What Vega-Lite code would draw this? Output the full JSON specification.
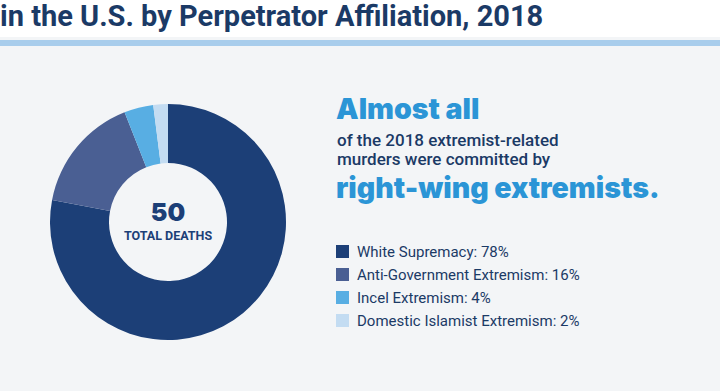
{
  "$schema": "https://vega.github.io/schema/vega-lite/v6.json",
  "background": "#f3f5f7",
  "padding": 0,
  "spacing": 0,
  "config": {
    "view": {"stroke": null},
    "concat": {"spacing": 0}
  },
  "datasets": {
    "deaths": [
      {"affiliation": "White Supremacy", "label": "White Supremacy: 78%", "deaths": 39, "share": 78},
      {"affiliation": "Anti-Government Extremism", "label": "Anti-Government Extremism: 16%", "deaths": 8, "share": 16},
      {"affiliation": "Incel Extremism", "label": "Incel Extremism: 4%", "deaths": 2, "share": 4},
      {"affiliation": "Domestic Islamist Extremism", "label": "Domestic Islamist Extremism: 2%", "deaths": 1, "share": 2}
    ]
  },
  "vconcat": [
    {
      "width": 720,
      "height": 37,
      "view": {"fill": "#ffffff", "stroke": null},
      "data": {"values": [{"t": "in the U.S. by Perpetrator Affiliation, 2018"}]},
      "mark": {"type": "text", "align": "left", "baseline": "alphabetic", "font": "Roboto", "fontSize": 29, "fontWeight": "bold", "color": "#1b3a66"},
      "encoding": {"text": {"field": "t"}, "x": {"value": 0}, "y": {"value": 26}}
    },
    {
      "width": 720,
      "height": 6,
      "view": {"fill": "#a8cdec", "stroke": null},
      "data": {"values": [{"t": ""}]},
      "mark": {"type": "text"},
      "encoding": {"text": {"field": "t"}}
    },
    {
      "hconcat": [
        {
          "width": 336,
          "height": 348,
          "data": {"name": "deaths"},
          "layer": [
            {
              "mark": {"type": "arc", "innerRadius": 59, "outerRadius": 118},
              "encoding": {
                "theta": {"field": "deaths", "type": "quantitative", "stack": true},
                "order": {"field": "deaths", "sort": "descending"},
                "color": {
                  "field": "label",
                  "type": "nominal",
                  "sort": null,
                  "scale": {
                    "domain": ["White Supremacy: 78%", "Anti-Government Extremism: 16%", "Incel Extremism: 4%", "Domestic Islamist Extremism: 2%"],
                    "range": ["#1c3f77", "#4a5f93", "#58aee3", "#c3dcf2"]
                  },
                  "legend": {
                    "orient": "none",
                    "legendX": 335,
                    "legendY": 244,
                    "title": null,
                    "symbolType": "square",
                    "symbolSize": 169,
                    "symbolStrokeWidth": 0,
                    "labelFont": "Roboto",
                    "labelFontSize": 15,
                    "labelFontWeight": 400,
                    "labelColor": "#1b3a66",
                    "labelOffset": 7,
                    "rowPadding": 7,
                    "labelLimit": 400
                  }
                }
              }
            },
            {
              "data": {"values": [{"t": "50"}]},
              "mark": {"type": "text", "font": "Inter", "fontSize": 25, "fontWeight": 900, "color": "#1c3f77", "baseline": "alphabetic", "dy": -1},
              "encoding": {"text": {"field": "t"}}
            },
            {
              "data": {"values": [{"t": "TOTAL DEATHS"}]},
              "mark": {"type": "text", "font": "Roboto", "fontSize": 12.5, "fontWeight": "bold", "color": "#1c3f77", "baseline": "alphabetic", "dy": 18},
              "encoding": {"text": {"field": "t"}}
            }
          ]
        },
        {
          "width": 384,
          "height": 348,
          "layer": [
            {
              "data": {"values": [{"t": "Almost all"}]},
              "mark": {"type": "text", "align": "left", "baseline": "alphabetic", "font": "Inter", "fontSize": 28.5, "fontWeight": 900, "color": "#2b95d6"},
              "encoding": {"text": {"field": "t"}, "x": {"value": -1}, "y": {"value": 71}}
            },
            {
              "data": {"values": [{"t": "of the 2018 extremist-related"}]},
              "mark": {"type": "text", "align": "left", "baseline": "alphabetic", "font": "Roboto", "fontSize": 17, "fontWeight": 500, "color": "#1b3a66"},
              "encoding": {"text": {"field": "t"}, "x": {"value": 0}, "y": {"value": 98}}
            },
            {
              "data": {"values": [{"t": "murders were committed by"}]},
              "mark": {"type": "text", "align": "left", "baseline": "alphabetic", "font": "Roboto", "fontSize": 17, "fontWeight": 500, "color": "#1b3a66"},
              "encoding": {"text": {"field": "t"}, "x": {"value": 0}, "y": {"value": 117}}
            },
            {
              "data": {"values": [{"t": "right-wing extremists."}]},
              "mark": {"type": "text", "align": "left", "baseline": "alphabetic", "font": "Inter", "fontSize": 28.5, "fontWeight": 900, "color": "#2b95d6"},
              "encoding": {"text": {"field": "t"}, "x": {"value": -1}, "y": {"value": 150}}
            }
          ]
        }
      ]
    }
  ]
}
